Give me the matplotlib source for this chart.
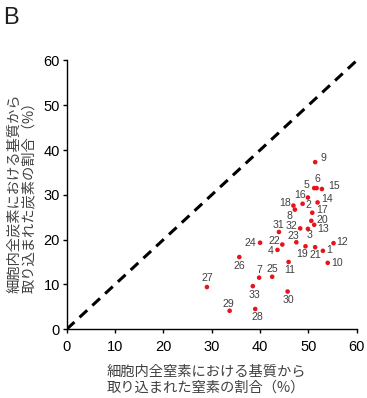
import matplotlib
matplotlib.use("Agg")
import matplotlib.pyplot as plt

plt.rcParams['font.family'] = ['Liberation Sans', 'DejaVu Sans']

# sample numbers and values (%)
ids = list(range(1, 34))
nitrogen = [53.0, 48.8, 49.9, 43.6, 51.2, 51.7, 39.8, 47.2, 51.4, 54.0,
            45.9, 55.2, 51.2, 51.9, 52.8, 49.9, 50.8, 46.9, 49.4, 50.6,
            51.4, 44.6, 47.5, 40.0, 42.5, 35.7, 29.0, 39.0, 33.7, 45.7,
            43.9, 48.3, 38.5]
carbon = [17.5, 28.0, 22.4, 17.7, 31.5, 31.5, 11.5, 26.7, 37.3, 14.8,
          15.0, 19.2, 23.3, 28.3, 31.3, 29.4, 26.0, 27.6, 18.5, 24.2,
          18.3, 18.9, 19.4, 19.3, 11.7, 16.1, 9.4, 4.5, 4.1, 8.4,
          21.7, 22.5, 9.6]

# label offsets in pixels (dx, dy)
offs = {1: (6, 1), 2: (6, -1), 3: (2, -6), 4: (-7, -1), 5: (-8, 3),
        6: (1, 9), 7: (0, 8), 8: (-5, -6), 9: (8, 4), 10: (9, 0),
        11: (1, -8), 12: (9, 1), 13: (9, -4), 14: (9, 3), 15: (12, 3),
        16: (-8, 3), 17: (10, 3), 18: (-8, 3), 19: (-3, -8), 20: (11, 1),
        21: (0, -8), 22: (-8, 4), 23: (-3, 6), 24: (-10, 0), 25: (0, 8),
        26: (0, -9), 27: (0, 9), 28: (2, -8), 29: (-1, 7), 30: (1, -8),
        31: (0, 7), 32: (-9, 2), 33: (2, -9)}

fig = plt.figure(figsize=(3.67, 3.98), dpi=100)
ax = fig.add_axes([0.182, 0.173, 0.79, 0.675])

ax.plot([0, 60], [0, 60], color='black', lw=2.2, ls=(0, (3.4, 2.3)), zorder=1)
ax.scatter(nitrogen, carbon, s=11, color='#e8141c', edgecolors='none', zorder=3)
for i, xv, yv in zip(ids, nitrogen, carbon):
    dx, dy = offs[i]
    ax.annotate(str(i), (xv, yv), xytext=(dx, dy), textcoords='offset pixels',
                ha='center', va='center', fontsize=7.6, color='#404040')

ax.set_xlim(0, 60)
ax.set_ylim(0, 60)
ax.set_xticks(range(0, 61, 10))
ax.set_yticks(range(0, 61, 10))
for s in ['top', 'right']:
    ax.spines[s].set_visible(False)
for s in ['left', 'bottom']:
    ax.spines[s].set_linewidth(1.0)
ax.tick_params(direction='out', length=3, width=1, labelsize=10.5, pad=2)
ax.tick_params(axis='x', pad=5)

jp = ['Noto Sans CJK JP', 'DejaVu Sans']
fig.text(0.29, 0.046, '細胞内全窒素における基質から\n取り込まれた窒素の割合（%）',
         ha='left', va='center', fontsize=10.3, color='#404040',
         family=jp, linespacing=1.15)
fig.text(0.059, 0.514, '細胞内全炭素における基質から\n取り込まれた炭素の割合（%）',
         ha='center', va='center', rotation=90, fontsize=10.3, color='#404040',
         family=jp, linespacing=1.1, multialignment='left')
fig.text(0.008, 0.94, 'B', fontsize=17, color='#202020')

fig.savefig('out.png', dpi=100)
